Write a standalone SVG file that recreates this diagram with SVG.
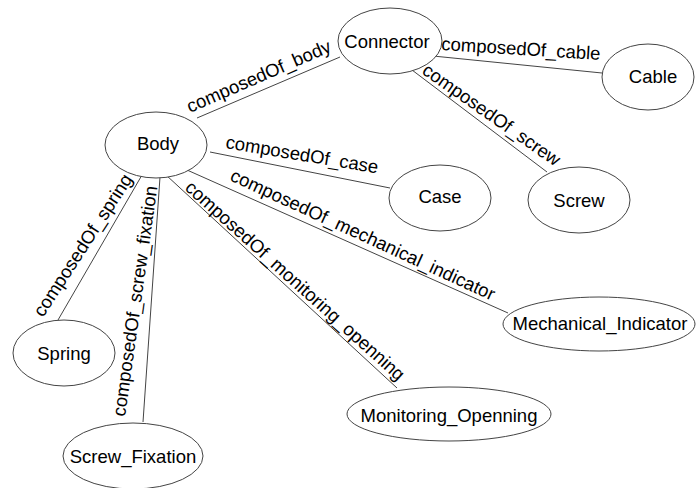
<svg xmlns="http://www.w3.org/2000/svg" width="696" height="488" viewBox="0 0 696 488">
<style>
.n ellipse{fill:#fff;stroke:#444;stroke-width:1}
.n text{font-family:"Liberation Sans",Arial,sans-serif;font-size:18.5px;fill:#000;text-anchor:middle}
.e line{stroke:#444;stroke-width:1}
.e text{font-family:"Liberation Sans",Arial,sans-serif;font-size:18.5px;fill:#000}
</style>
<rect width="696" height="488" fill="#fff"/>
<g id="connectors" class="e">
<line x1="197" y1="118" x2="340" y2="57"/>
<line x1="433" y1="56" x2="602" y2="73"/>
<line x1="412" y1="70" x2="547" y2="172"/>
<line x1="210" y1="152" x2="390" y2="188"/>
<line x1="187" y1="170" x2="508" y2="313"/>
<line x1="166" y1="175" x2="397" y2="388"/>
<line x1="142" y1="175" x2="58" y2="320"/>
<line x1="160" y1="177" x2="143" y2="422"/>
<text transform="translate(190,113) rotate(-23.5)">composedOf_body</text>
<text transform="translate(441,50) rotate(3.6)">composedOf_cable</text>
<text transform="translate(421,73) rotate(35)">composedOf_screw</text>
<text transform="translate(225,148) rotate(9.5)">composedOf_case</text>
<text transform="translate(229,180) rotate(24.7)">composedOf_mechanical_indicator</text>
<text transform="translate(184,189) rotate(42)">composedOf_monitoring_openning</text>
<text transform="translate(43,318) rotate(-57)">composedOf_spring</text>
<text transform="translate(125,417) rotate(-82)">composedOf_screw_fixation</text>
</g>
<g id="node-connector" class="n"><ellipse cx="390" cy="41" rx="52" ry="33"/><text x="387" y="48">Connector</text></g>
<g id="node-body" class="n"><ellipse cx="156" cy="145" rx="51" ry="33"/><text x="158" y="150">Body</text></g>
<g id="node-cable" class="n"><ellipse cx="648" cy="77" rx="46" ry="33"/><text x="653" y="83">Cable</text></g>
<g id="node-case" class="n"><ellipse cx="440" cy="198" rx="51" ry="33"/><text x="440" y="203">Case</text></g>
<g id="node-screw" class="n"><ellipse cx="579" cy="200" rx="51" ry="33"/><text x="579" y="207">Screw</text></g>
<g id="node-mechanical-indicator" class="n"><ellipse cx="599" cy="324" rx="96" ry="27"/><text x="600" y="330">Mechanical_Indicator</text></g>
<g id="node-monitoring-openning" class="n"><ellipse cx="449" cy="414" rx="102" ry="27"/><text x="449" y="422">Monitoring_Openning</text></g>
<g id="node-spring" class="n"><ellipse cx="64" cy="353" rx="51" ry="33"/><text x="64" y="360">Spring</text></g>
<g id="node-screw-fixation" class="n"><ellipse cx="133" cy="456" rx="70" ry="33"/><text x="133" y="463">Screw_Fixation</text></g>
</svg>
